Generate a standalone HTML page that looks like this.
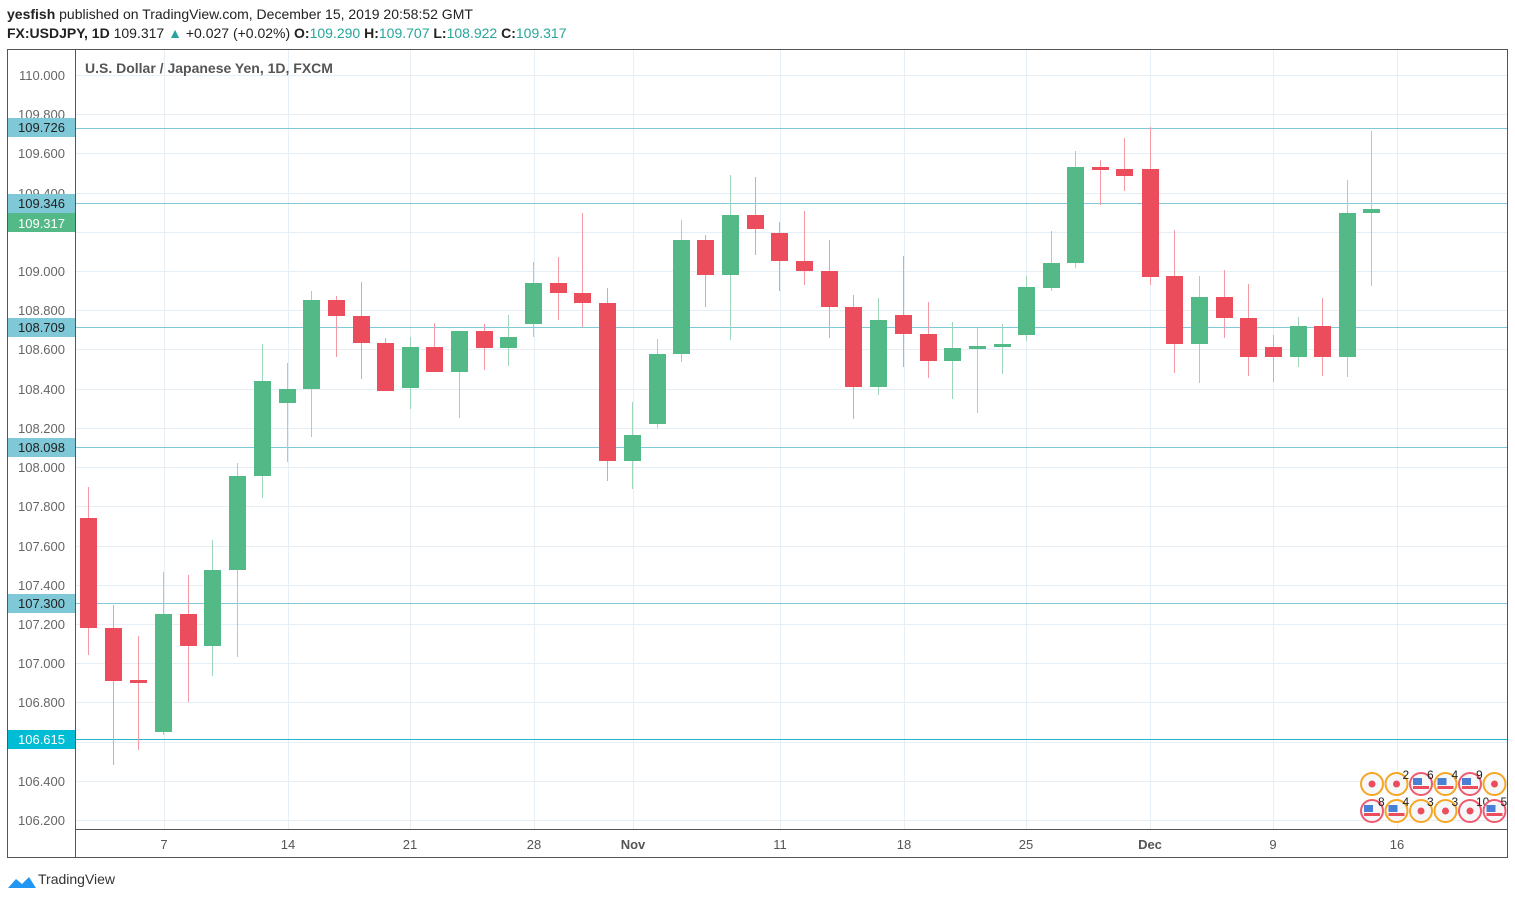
<!DOCTYPE html>
<html><head><meta charset="utf-8"><style>
body{margin:0;background:#fff;width:1515px;height:900px;overflow:hidden;font-family:"Liberation Sans",sans-serif}
</style></head><body>
<svg width="1515" height="900" xmlns="http://www.w3.org/2000/svg" font-family="Liberation Sans, sans-serif">
<text x="7" y="19" font-size="14" fill="#222"><tspan font-weight="bold">yesfish</tspan> published on TradingView.com, December 15, 2019 20:58:52 GMT</text>
<text x="7" y="38" font-size="14" fill="#222"><tspan font-weight="bold">FX:USDJPY, 1D</tspan> 109.317 <tspan fill="#26a69a">▲</tspan> +0.027 (+0.02%) <tspan font-weight="bold">O:</tspan><tspan fill="#26a69a">109.290</tspan> <tspan font-weight="bold">H:</tspan><tspan fill="#26a69a">109.707</tspan> <tspan font-weight="bold">L:</tspan><tspan fill="#26a69a">108.922</tspan> <tspan font-weight="bold">C:</tspan><tspan fill="#26a69a">109.317</tspan></text>
<g stroke="#e6eff5" stroke-width="1">
<line x1="75" x2="1507" y1="75.5" y2="75.5"/><line x1="75" x2="1507" y1="114.5" y2="114.5"/><line x1="75" x2="1507" y1="153.5" y2="153.5"/><line x1="75" x2="1507" y1="193.5" y2="193.5"/><line x1="75" x2="1507" y1="232.5" y2="232.5"/><line x1="75" x2="1507" y1="271.5" y2="271.5"/><line x1="75" x2="1507" y1="310.5" y2="310.5"/><line x1="75" x2="1507" y1="349.5" y2="349.5"/><line x1="75" x2="1507" y1="389.5" y2="389.5"/><line x1="75" x2="1507" y1="428.5" y2="428.5"/><line x1="75" x2="1507" y1="467.5" y2="467.5"/><line x1="75" x2="1507" y1="506.5" y2="506.5"/><line x1="75" x2="1507" y1="546.5" y2="546.5"/><line x1="75" x2="1507" y1="585.5" y2="585.5"/><line x1="75" x2="1507" y1="624.5" y2="624.5"/><line x1="75" x2="1507" y1="663.5" y2="663.5"/><line x1="75" x2="1507" y1="702.5" y2="702.5"/><line x1="75" x2="1507" y1="742.5" y2="742.5"/><line x1="75" x2="1507" y1="781.5" y2="781.5"/><line x1="75" x2="1507" y1="820.5" y2="820.5"/>
<line x1="164.5" x2="164.5" y1="49" y2="829"/><line x1="288.5" x2="288.5" y1="49" y2="829"/><line x1="410.5" x2="410.5" y1="49" y2="829"/><line x1="534.5" x2="534.5" y1="49" y2="829"/><line x1="633.5" x2="633.5" y1="49" y2="829"/><line x1="780.5" x2="780.5" y1="49" y2="829"/><line x1="904.5" x2="904.5" y1="49" y2="829"/><line x1="1026.5" x2="1026.5" y1="49" y2="829"/><line x1="1150.5" x2="1150.5" y1="49" y2="829"/><line x1="1273.5" x2="1273.5" y1="49" y2="829"/><line x1="1397.5" x2="1397.5" y1="49" y2="829"/>
</g>
<text x="85" y="73" font-size="14" font-weight="bold" fill="#555">U.S. Dollar / Japanese Yen, 1D, FXCM</text>
<g stroke="#7ec8d8" stroke-width="1">
<line x1="75" x2="1507" y1="128.5" y2="128.5"/><line x1="75" x2="1507" y1="203.5" y2="203.5"/><line x1="75" x2="1507" y1="327.5" y2="327.5"/><line x1="75" x2="1507" y1="447.5" y2="447.5"/><line x1="75" x2="1507" y1="603.5" y2="603.5"/>
</g>
<line x1="75" x2="1507" y1="739.5" y2="739.5" stroke="#22b8d0"/>
<g id="c"></g>
<g font-size="13" fill="#666" text-anchor="end">
<text x="65" y="80">110.000</text><text x="65" y="119">109.800</text><text x="65" y="158">109.600</text><text x="65" y="198">109.400</text><text x="65" y="276">109.000</text><text x="65" y="315">108.800</text><text x="65" y="354">108.600</text><text x="65" y="394">108.400</text><text x="65" y="433">108.200</text><text x="65" y="472">108.000</text><text x="65" y="511">107.800</text><text x="65" y="551">107.600</text><text x="65" y="590">107.400</text><text x="65" y="629">107.200</text><text x="65" y="668">107.000</text><text x="65" y="707">106.800</text><text x="65" y="786">106.400</text><text x="65" y="825">106.200</text>
</g>
<g font-size="13" text-anchor="end">
<rect x="7" y="118" width="68" height="19" fill="#7ec8d8"/><text x="65" y="132" fill="#222">109.726</text>
<rect x="7" y="194" width="68" height="19" fill="#7ec8d8"/><text x="65" y="208" fill="#222">109.346</text>
<rect x="7" y="213" width="68" height="19" fill="#53b987"/><text x="65" y="228" fill="#fff">109.317</text>
<rect x="7" y="318" width="68" height="19" fill="#7ec8d8"/><text x="65" y="332" fill="#222">108.709</text>
<rect x="7" y="438" width="68" height="19" fill="#7ec8d8"/><text x="65" y="452" fill="#222">108.098</text>
<rect x="7" y="594" width="68" height="19" fill="#7ec8d8"/><text x="65" y="608" fill="#222">107.300</text>
<rect x="7" y="730" width="68" height="19" fill="#00bcd4"/><text x="65" y="744" fill="#fff">106.615</text>
</g>
<g font-size="13" fill="#555" text-anchor="middle">
<text x="164" y="849">7</text><text x="288" y="849">14</text><text x="410" y="849">21</text><text x="534" y="849">28</text><text x="633" y="849" font-weight="bold">Nov</text><text x="780" y="849">11</text><text x="904" y="849">18</text><text x="1026" y="849">25</text><text x="1150" y="849" font-weight="bold">Dec</text><text x="1273" y="849">9</text><text x="1397" y="849">16</text>
</g>
<rect x="7.5" y="49.5" width="1500" height="808" fill="none" stroke="#555"/>
<line x1="75.5" x2="75.5" y1="49" y2="857" stroke="#555"/>
<line x1="75" x2="1507" y1="829.5" y2="829.5" stroke="#555"/>
<g id="ev"></g>
<path d="M8 888 l8 -9 l6 5 l7 -7 l7 11 z" fill="#2196f3"/>
<text x="38" y="884" font-size="14" fill="#333">TradingView</text>
</svg>
<script>
var d=[[88,'r',518,628,487,655],[113,'r',628,681,605,765],[138,'r',680,683,636,750],[163,'g',614,732,572,735],[188,'r',614,646,575,702],[212,'g',570,646,540,676],[237,'g',476,570,463,657],[262,'g',381,476,344,498],[287,'g',389,403,363,462],[311,'g',300,389,291,437],[336,'r',300,316,296,357],[361,'r',316,343,282,379],[385,'r',343,391,338,391],[410,'g',347,388,337,409],[434,'r',347,372,323,372],[459,'g',331,372,331,418],[484,'r',331,348,324,370],[508,'g',337,348,315,366],[533,'g',283,324,262,337],[558,'r',283,293,257,320],[582,'r',293,303,213,327],[607,'r',303,461,288,481],[632,'g',435,461,402,489],[657,'g',354,424,339,428],[681,'g',240,354,220,362],[705,'r',240,275,235,307],[730,'g',215,275,175,340],[755,'r',215,229,177,255],[779,'r',233,261,222,291],[804,'r',261,271,211,285],[829,'r',271,307,240,338],[853,'r',307,387,295,419],[878,'g',320,387,298,395],[903,'r',315,334,256,367],[928,'r',334,361,302,378],[952,'g',348,361,322,399],[977,'g',346,349,328,413],[1002,'g',344,347,324,374],[1026,'g',287,335,276,341],[1051,'g',263,288,231,291],[1075,'g',167,263,151,268],[1100,'r',167,170,160,205],[1124,'r',169,176,138,191],[1150,'r',169,277,127,285],[1174,'r',276,344,230,373],[1199,'g',297,344,276,383],[1224,'r',297,318,270,338],[1248,'r',318,357,284,376],[1273,'r',347,357,335,382],[1298,'g',326,357,317,367],[1322,'r',326,357,298,376],[1347,'g',213,357,180,377],[1371,'g',209,213,131,286]];
var s='';d.forEach(function(c){var col=c[1]=='g'?'#53b987':'#eb4d5c';var wc=c[1]=='g'?'#9fd6b9':'#f39aa3';
s+='<line x1="'+(c[0]+.5)+'" x2="'+(c[0]+.5)+'" y1="'+c[4]+'" y2="'+c[5]+'" stroke="'+wc+'"/>';
s+='<rect x="'+(c[0]-8)+'" y="'+c[2]+'" width="17" height="'+Math.max(2,c[3]-c[2])+'" fill="'+col+'"/>';});
document.getElementById('c').innerHTML=s;
var e='';var row1=[['o','r',''],['o','r','2'],['r','u','6'],['o','u','4'],['r','u','9'],['o','r','']];var row2=[['r','u','8'],['o','u','4'],['o','r','3'],['o','r','3'],['r','r','10'],['r','u','5']];
[[row1,784],[row2,811]].forEach(function(rw){rw[0].forEach(function(v,i){var x=1372+i*24.5,y=rw[1];var rc=v[0]=='o'?'#f5a623':'#f05a6e';
e+='<circle cx="'+x+'" cy="'+y+'" r="11" fill="#f6f7f8" stroke="'+rc+'" stroke-width="2"/>';
if(v[1]=='r')e+='<circle cx="'+x+'" cy="'+y+'" r="3.5" fill="#eb4d5c"/>';else e+='<rect x="'+(x-8)+'" y="'+(y-6)+'" width="9" height="7" fill="#4a7fd6"/><rect x="'+(x-8)+'" y="'+(y+2)+'" width="16" height="3" fill="#eb4d5c"/>';
if(v[2])e+='<text x="'+(x+6)+'" y="'+(y-5)+'" font-size="12" fill="#222">'+v[2]+'</text>';});});
document.getElementById('ev').innerHTML=e;
</script>
</body></html>
